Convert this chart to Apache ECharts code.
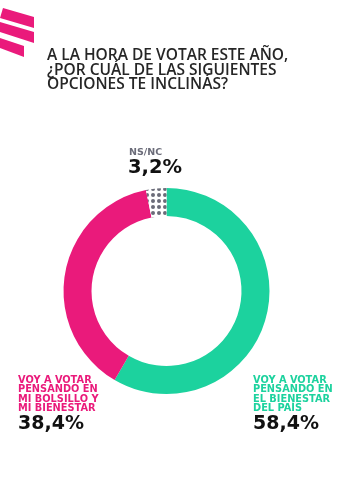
<!DOCTYPE html>
<html>
<head>
<meta charset="utf-8">
<script src="https://cdn.jsdelivr.net/npm/echarts@6/dist/echarts.min.js"></script>
<style>
  html, body { margin: 0; padding: 0; background: #fff; }
  #chart { width: 355px; height: 495px; }
</style>
</head>
<body>
<div id="chart"></div>
<script>
// datos de la encuesta
var categories = ['VOY A VOTAR\nPENSANDO EN\nEL BIENESTAR\nDEL PAÍS', 'VOY A VOTAR\nPENSANDO EN\nMI BOLSILLO Y\nMI BIENESTAR', 'NS/NC'];
var values = [58.4, 38.4, 3.2];
var colors = ['#1cd29e', '#ea1a7b', 'dots'];

function fmt(v) {
    return v.toFixed(1).replace('.', ',') + '%';
}

// patrón de puntos para NS/NC
var pat = document.createElement('canvas');
pat.width = 6;
pat.height = 6;
var ctx = pat.getContext('2d');
ctx.fillStyle = '#ffffff';
ctx.fillRect(0, 0, 6, 6);
ctx.fillStyle = '#6b6c79';
ctx.beginPath();
ctx.arc(3, 3, 2, 0, Math.PI * 2);
ctx.fill();

var chart = echarts.init(document.getElementById('chart'));

var pieData = values.map(function (v, i) {
    return {
        value: v,
        name: categories[i],
        itemStyle: { color: colors[i] === 'dots' ? { image: pat, repeat: 'repeat' } : colors[i] }
    };
});

var labelFont = 'DejaVu Sans';

var option = {
    backgroundColor: '#fff',
    animation: false,
    graphic: [
        // franjas decorativas
        { type: 'polygon', shape: { points: [[3, 8], [34, 17], [34, 28], [0, 18]] }, style: { fill: '#ea1a7b' } },
        { type: 'polygon', shape: { points: [[0, 22], [34, 32], [34, 43], [0, 32]] }, style: { fill: '#ea1a7b' } },
        { type: 'polygon', shape: { points: [[0, 38], [24, 46], [24, 57], [0, 48]] }, style: { fill: '#ea1a7b' } },
        {
            type: 'text', left: 47, top: 48,
            style: {
                text: 'A LA HORA DE VOTAR ESTE AÑO,\n¿POR CUÁL DE LAS SIGUIENTES\nOPCIONES TE INCLINÁS?',
                font: '600 15.5px "Open Sans"', fill: '#262626', lineHeight: 14.5
            }
        },
        // NS/NC
        { type: 'text', left: 129, top: 148, style: { text: categories[2], font: 'bold 9.5px ' + labelFont, fill: '#6b6c79' } },
        { type: 'text', left: 128, top: 158, style: { text: fmt(values[2]), font: 'bold 19.5px ' + labelFont, fill: '#111' } },
        // izquierda
        { type: 'text', left: 18, top: 375, style: { text: categories[1], font: 'bold 9.8px ' + labelFont, fill: '#ea1a7b', lineHeight: 9.5 } },
        { type: 'text', left: 18, top: 415, style: { text: fmt(values[1]), font: 'bold 19px ' + labelFont, fill: '#111' } },
        // derecha
        { type: 'text', left: 253, top: 375, style: { text: categories[0], font: 'bold 9.8px ' + labelFont, fill: '#1cd29e', lineHeight: 9.5 } },
        { type: 'text', left: 253, top: 415, style: { text: fmt(values[0]), font: 'bold 19px ' + labelFont, fill: '#111' } }
    ],
    series: [{
        type: 'pie',
        center: [166.5, 291],
        radius: [75, 103],
        startAngle: 90,
        clockwise: true,
        silent: true,
        label: { show: false },
        labelLine: { show: false },
        itemStyle: { borderWidth: 0 },
        data: pieData
    }]
};

chart.setOption(option);
</script>
</body>
</html>
